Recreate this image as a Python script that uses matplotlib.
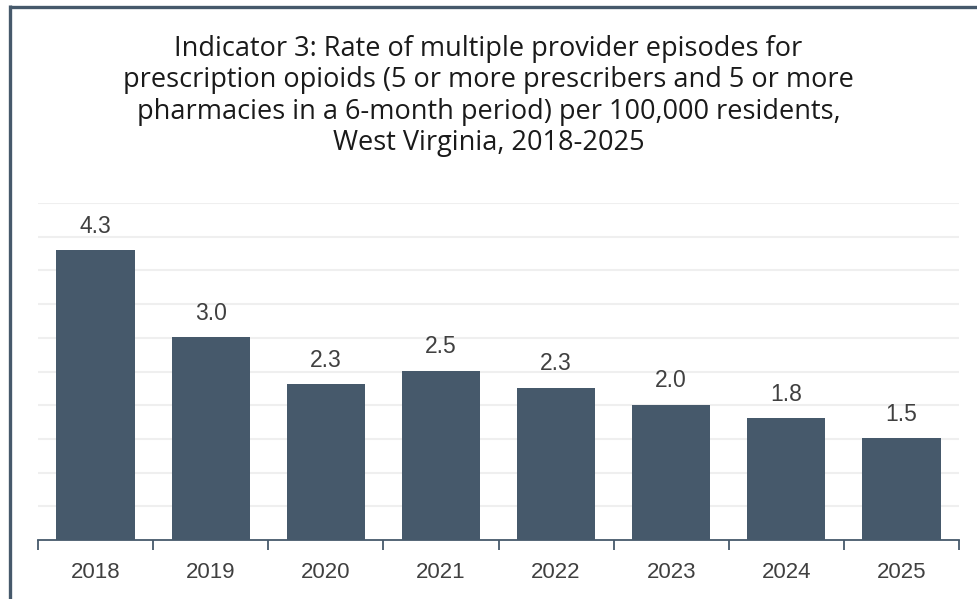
import matplotlib
matplotlib.use("Agg")
import matplotlib.pyplot as plt
from matplotlib.lines import Line2D

years = ["2018", "2019", "2020", "2021", "2022", "2023", "2024", "2025"]
rates = [4.30, 3.01, 2.31, 2.51, 2.26, 2.01, 1.81, 1.51]
labels = ["4.3", "3.0", "2.3", "2.5", "2.3", "2.0", "1.8", "1.5"]
title = ("Indicator 3: Rate of multiple provider episodes for\n"
         "prescription opioids (5 or more prescribers and 5 or more\n"
         "pharmacies in a 6-month period) per 100,000 residents,\n"
         "West Virginia, 2018-2025")

W, H = 977, 599
fig = plt.figure(figsize=(W / 100, H / 100), dpi=100)
fig.patch.set_facecolor("white")

frame_color = "#46596B"
bar_color = "#46596B"

# outer frame (top and left visible)
fig.add_artist(Line2D([9.5 / W, 1.0], [1 - 6.5 / H, 1 - 6.5 / H],
                      transform=fig.transFigure, color=frame_color, lw=2.4,
                      solid_capstyle="butt"))
fig.add_artist(Line2D([9.5 / W, 9.5 / W], [1 - 5 / H, 0.0],
                      transform=fig.transFigure, color=frame_color, lw=2.4,
                      solid_capstyle="butt"))

left, right = 38 / W, 959 / W
bottom, top = (H - 540) / H, (H - 203) / H
ax = fig.add_axes([left, bottom, right - left, top - bottom])

x = list(range(len(years)))
ax.bar(x, rates, width=0.68, color=bar_color, zorder=3)
ax.set_xlim(-0.5, len(years) - 0.5)
ax.set_ylim(0, 5.0)

for xi, v, lab in zip(x, rates, labels):
    ax.annotate(lab, (xi, v), xytext=(0, 9), textcoords="offset points",
                ha="center", va="bottom", fontsize=16.5, color="#404040",
                family="Liberation Sans", zorder=4)

ax.set_yticks([i * 0.5 for i in range(1, 11)])
ax.yaxis.grid(True, color="#EFEFEF", lw=1.5, zorder=0)
ax.tick_params(axis="y", left=False, labelleft=False)

ax.set_xticks(x)
ax.set_xticklabels(years, family="Liberation Sans", fontsize=16, color="#404040")
ax.tick_params(axis="x", length=0, pad=15.5)
ax.set_xticks([i - 0.5 for i in range(len(years) + 1)], minor=True)
ax.tick_params(axis="x", which="minor", length=7, width=1.3, color=frame_color,
               direction="out")

for s in ["top", "right", "left"]:
    ax.spines[s].set_visible(False)
ax.spines["bottom"].set_color(frame_color)
ax.spines["bottom"].set_linewidth(1.3)
ax.spines["bottom"].set_zorder(5)

fig.text(0.5, 1 - 35 / H, title, ha="center", va="top", fontsize=19.5,
         family="Open Sans", color="#1a1a1a", linespacing=1.16)

fig.savefig("out.png", dpi=100, facecolor="white")
